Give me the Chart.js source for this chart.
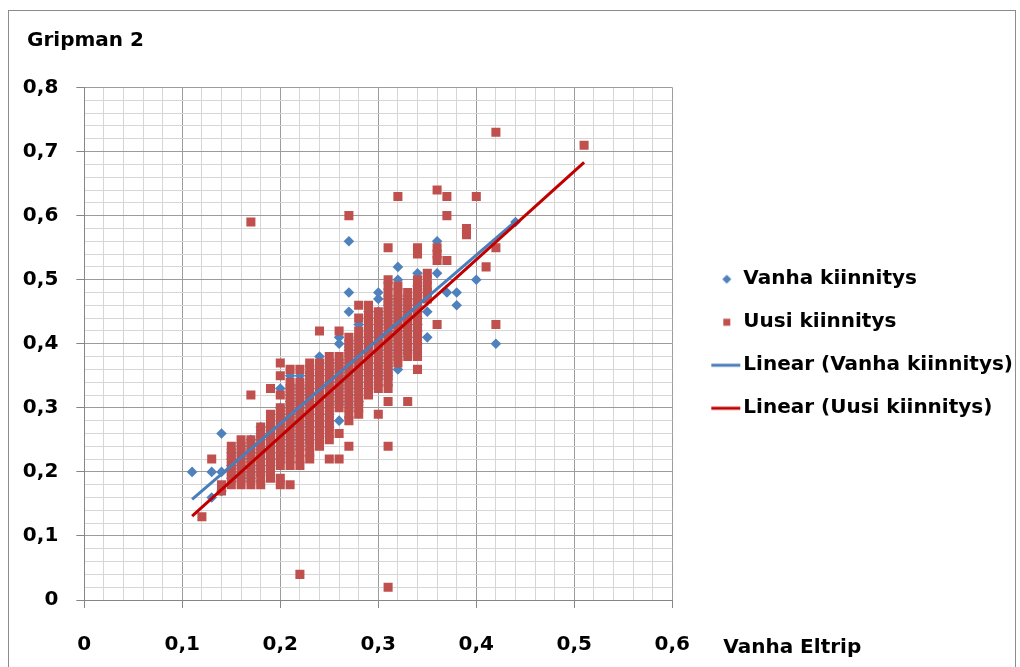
<!DOCTYPE html>
<html><head><meta charset="utf-8">
<script src="https://cdn.jsdelivr.net/npm/chart.js@4.4.1/dist/chart.umd.min.js"></script>
<style>
html,body{margin:0;padding:0;background:#fff;}
#wrap{position:relative;width:1020px;height:667px;overflow:hidden;background:#fff;}
#frame{position:absolute;left:8px;top:10px;width:1006px;height:700px;border:1px solid #8c8c8c;pointer-events:none;}
canvas{position:absolute;left:0;top:0;}
</style></head><body>
<div id="wrap"><canvas id="c" width="1020" height="667"></canvas><div id="frame"></div></div>
<script>
// ---------- data ----------
const chartTitle = 'Gripman 2';
const xAxisTitle = 'Vanha Eltrip';
const seriesNames = ['Vanha kiinnitys', 'Uusi kiinnitys', 'Linear (Vanha kiinnitys)', 'Linear (Uusi kiinnitys)'];

// Vanha kiinnitys: x columns and the y values found in each column
const vanhaX = [0.11,0.13,0.14,0.15,0.16,0.17,0.18,0.19,0.20,0.21,0.22,0.23,0.24,0.25,0.26,0.27,0.28,0.29,0.30,0.31,0.32,0.33,0.34,0.35,0.36,0.37,0.38,0.40,0.42,0.44];
const vanhaY = [
  [0.20],
  [0.16,0.20],
  [0.17,0.20,0.26],
  [0.19,0.20,0.21,0.22,0.23],
  [0.19,0.20,0.21,0.22,0.23,0.24],
  [0.19,0.20,0.21,0.22,0.23,0.24,0.25],
  [0.20,0.21,0.22,0.23,0.24,0.25,0.26,0.27],
  [0.21,0.22,0.23,0.24,0.25,0.26,0.27],
  [0.22,0.23,0.24,0.25,0.26,0.27,0.28,0.29,0.30,0.33],
  [0.23,0.24,0.25,0.26,0.27,0.28,0.29,0.30,0.31,0.32,0.33,0.35],
  [0.24,0.25,0.26,0.27,0.28,0.29,0.30,0.31,0.32,0.33,0.35],
  [0.25,0.26,0.27,0.28,0.29,0.30,0.31,0.32,0.33,0.34,0.35],
  [0.26,0.27,0.28,0.29,0.30,0.31,0.32,0.33,0.34,0.35,0.36,0.38],
  [0.27,0.28,0.29,0.30,0.31,0.32,0.33,0.34,0.35,0.36,0.37],
  [0.28,0.31,0.32,0.33,0.34,0.35,0.36,0.37,0.40,0.41],
  [0.30,0.31,0.32,0.33,0.34,0.35,0.36,0.37,0.38,0.39,0.40,0.45,0.48,0.56],
  [0.31,0.32,0.33,0.34,0.35,0.36,0.37,0.38,0.39,0.40,0.41,0.43],
  [0.33,0.34,0.35,0.36,0.37,0.38,0.39,0.40,0.41,0.42,0.43,0.44,0.45],
  [0.35,0.36,0.37,0.38,0.39,0.40,0.41,0.42,0.43,0.44,0.45,0.47,0.48],
  [0.35,0.36,0.37,0.38,0.39,0.40,0.41,0.42,0.43,0.44,0.45,0.46,0.47],
  [0.36,0.38,0.39,0.40,0.41,0.42,0.43,0.44,0.45,0.46,0.47,0.50,0.52],
  [0.39,0.40,0.41,0.42,0.43,0.44,0.45,0.46,0.47],
  [0.40,0.41,0.42,0.43,0.44,0.45,0.46,0.47,0.48,0.49,0.51],
  [0.41,0.45,0.48],
  [0.51,0.56],
  [0.48],
  [0.46,0.48],
  [0.50],
  [0.40],
  [0.59]
];

// Uusi kiinnitys: x columns and the y values found in each column
const uusiX = [0.12,0.13,0.14,0.15,0.16,0.17,0.18,0.19,0.20,0.21,0.22,0.23,0.24,0.25,0.26,0.27,0.28,0.29,0.30,0.31,0.32,0.33,0.34,0.35,0.36,0.37,0.39,0.40,0.41,0.42,0.51];
const uusiY = [
  [0.13],
  [0.22],
  [0.17,0.18],
  [0.18,0.19,0.20,0.21,0.22,0.23,0.24],
  [0.18,0.19,0.20,0.21,0.22,0.23,0.24,0.25],
  [0.18,0.19,0.20,0.21,0.22,0.23,0.24,0.25,0.32,0.59],
  [0.18,0.19,0.20,0.21,0.22,0.23,0.24,0.25,0.26,0.27],
  [0.19,0.20,0.21,0.22,0.23,0.24,0.25,0.26,0.27,0.28,0.29,0.33],
  [0.18,0.19,0.21,0.22,0.23,0.24,0.25,0.26,0.27,0.28,0.29,0.30,0.32,0.35,0.37],
  [0.18,0.21,0.22,0.23,0.24,0.25,0.26,0.27,0.28,0.29,0.30,0.31,0.32,0.33,0.34,0.36],
  [0.04,0.21,0.22,0.23,0.24,0.25,0.26,0.27,0.28,0.29,0.30,0.31,0.32,0.33,0.34,0.36],
  [0.22,0.23,0.24,0.25,0.26,0.27,0.28,0.29,0.30,0.31,0.32,0.33,0.34,0.35,0.36,0.37],
  [0.24,0.25,0.26,0.27,0.28,0.29,0.30,0.31,0.32,0.33,0.34,0.35,0.36,0.37,0.42],
  [0.22,0.25,0.26,0.27,0.28,0.29,0.30,0.31,0.32,0.33,0.34,0.35,0.36,0.37,0.38],
  [0.22,0.26,0.30,0.31,0.32,0.33,0.34,0.35,0.36,0.37,0.38,0.42],
  [0.24,0.28,0.29,0.30,0.31,0.32,0.33,0.34,0.35,0.36,0.37,0.38,0.39,0.40,0.41,0.60],
  [0.29,0.30,0.31,0.32,0.33,0.34,0.35,0.36,0.37,0.38,0.39,0.40,0.41,0.42,0.44,0.46],
  [0.32,0.33,0.34,0.35,0.36,0.37,0.38,0.39,0.40,0.41,0.42,0.43,0.44,0.45,0.46],
  [0.29,0.33,0.34,0.35,0.36,0.37,0.38,0.39,0.40,0.41,0.42,0.43,0.44,0.45],
  [0.02,0.24,0.31,0.33,0.34,0.35,0.36,0.37,0.38,0.39,0.40,0.41,0.42,0.43,0.44,0.45,0.46,0.47,0.48,0.49,0.50,0.55],
  [0.37,0.38,0.39,0.40,0.41,0.42,0.43,0.44,0.45,0.46,0.47,0.48,0.49,0.63],
  [0.31,0.38,0.39,0.40,0.41,0.42,0.43,0.44,0.45,0.46,0.47,0.48],
  [0.36,0.38,0.39,0.40,0.41,0.42,0.43,0.44,0.45,0.46,0.47,0.48,0.49,0.50,0.54,0.55],
  [0.47,0.48,0.49,0.50,0.51],
  [0.43,0.53,0.54,0.55,0.64],
  [0.53,0.60,0.63],
  [0.57,0.58],
  [0.63],
  [0.52],
  [0.43,0.55,0.73],
  [0.71]
];

// Linear trendlines (end points)
const vanhaTrendX = [0.11, 0.44];
const vanhaTrendY = [0.157, 0.591];
const uusiTrendX = [0.11, 0.51];
const uusiTrendY = [0.131, 0.683];

// axis ranges
const xMin = 0, xMax = 0.6, yMin = 0, yMax = 0.8, gridStep = 0.02;

// ---------- styling ----------
const FONT = '"DejaVu Sans"';
const FSIZE = 20;
const BLUE = '#4F81BD';
const RED = '#C0504D';
const BLUE_LINE = '#4A7EBB';
const RED_LINE = '#C00000';
const MAJOR = '#9c9c9c';
const MINOR = '#d6d6d6';
const AXIS = '#868686';
Chart.defaults.font.family = FONT;

function columnsToPoints(xs, ys) {
  const pts = [];
  xs.forEach((x, i) => ys[i].forEach(y => pts.push({x: x, y: y})));
  return pts;
}
function pairsToPoints(xs, ys) { return xs.map((x, i) => ({x: x, y: ys[i]})); }
function isMajor(v) { return Math.abs(v * 10 - Math.round(v * 10)) < 1e-6; }
function fmt(v) { return Math.abs(v) < 1e-9 ? '0' : v.toFixed(1).replace('.', ','); }

function makeIcon(kind, color) {
  const c = document.createElement('canvas');
  c.width = 70; c.height = 20;
  const g = c.getContext('2d');
  g.fillStyle = color; g.strokeStyle = color;
  const cx = 47.5, cy = 10;
  if (kind === 'diamond') {
    g.beginPath(); g.moveTo(cx, cy - 4.5); g.lineTo(cx + 4.5, cy); g.lineTo(cx, cy + 4.5); g.lineTo(cx - 4.5, cy); g.closePath(); g.fill();
  } else if (kind === 'square') {
    g.fillRect(cx - 3.5, cy - 3.5, 7, 7);
  } else {
    g.lineWidth = 3; g.beginPath(); g.moveTo(32, cy); g.lineTo(61, cy); g.stroke();
  }
  return c;
}
const legendIcons = [makeIcon('diamond', BLUE), makeIcon('square', RED), makeIcon('line', BLUE_LINE), makeIcon('line', RED_LINE)];

const axisTitlePlugin = {
  id: 'axisTitle',
  afterDraw(chart) {
    const {ctx, chartArea} = chart;
    ctx.save();
    ctx.font = 'bold ' + FSIZE + 'px ' + FONT;
    ctx.fillStyle = '#000';
    ctx.textBaseline = 'alphabetic';
    ctx.textAlign = 'left';
    ctx.fillText(xAxisTitle, chartArea.right + 51, chartArea.bottom + 53);
    ctx.restore();
  }
};
// let the legend box run to the right edge so long labels are not clipped,
// and indent the title to where the reference has it
const layoutTweakPlugin = {
  id: 'layoutTweak',
  afterLayout(chart) {
    const l = chart.legend;
    if (l) { l.right = chart.width; l.width = l.right - l.left; }
    const t = chart.titleBlock;
    if (t) { t.left = 27; t.width = t.right - t.left; }
  }
};

const tickFont = {family: FONT, size: FSIZE, weight: 'bold'};

new Chart(document.getElementById('c'), {
  type: 'scatter',
  data: {
    datasets: [
      {label: seriesNames[0], data: columnsToPoints(vanhaX, vanhaY), pointStyle: 'rectRot', pointRadius: 5.3, pointHoverRadius: 5.3,
       backgroundColor: BLUE, borderColor: BLUE, borderWidth: 0, order: 4},
      {label: seriesNames[1], data: columnsToPoints(uusiX, uusiY), pointStyle: 'rect', pointRadius: 6.4, pointHoverRadius: 6.4,
       backgroundColor: RED, borderColor: RED, borderWidth: 0, order: 3},
      {label: seriesNames[2], data: pairsToPoints(vanhaTrendX, vanhaTrendY), showLine: true, pointRadius: 0, pointHoverRadius: 0,
       borderColor: BLUE_LINE, backgroundColor: BLUE_LINE, borderWidth: 3, fill: false, order: 2},
      {label: seriesNames[3], data: pairsToPoints(uusiTrendX, uusiTrendY), showLine: true, pointRadius: 0, pointHoverRadius: 0,
       borderColor: RED_LINE, backgroundColor: RED_LINE, borderWidth: 3, fill: false, order: 1}
    ]
  },
  options: {
    responsive: false,
    animation: false,
    devicePixelRatio: 1,
    events: [],
    layout: {padding: {left: 12, top: 0, right: 147.7, bottom: 0}},
    scales: {
      x: {
        type: 'linear', position: 'bottom', min: xMin, max: xMax,
        afterFit(s) { s.height = 67; },
        border: {display: true, color: AXIS, width: 1},
        grid: {
          color: c => (c.tick && isMajor(c.tick.value)) ? MAJOR : MINOR,
          tickColor: c => (c.tick && isMajor(c.tick.value)) ? AXIS : 'rgba(0,0,0,0)',
          tickLength: 8, drawTicks: true, lineWidth: 1
        },
        ticks: {stepSize: gridStep, autoSkip: false, maxRotation: 0, minRotation: 0, padding: 25,
          color: '#000', font: tickFont, callback: v => isMajor(v) ? fmt(v) : ''}
      },
      y: {
        type: 'linear', min: yMin, max: yMax,
        afterFit(s) { s.width = 72.3; },
        border: {display: true, color: AXIS, width: 1},
        grid: {
          color: c => (c.tick && isMajor(c.tick.value)) ? MAJOR : MINOR,
          tickColor: c => (c.tick && isMajor(c.tick.value)) ? AXIS : 'rgba(0,0,0,0)',
          tickLength: 8, drawTicks: true, lineWidth: 1
        },
        ticks: {stepSize: gridStep, autoSkip: false, padding: 18,
          color: '#000', font: tickFont, callback: v => isMajor(v) ? fmt(v) : ''}
      }
    },
    plugins: {
      tooltip: {enabled: false},
      title: {display: true, text: chartTitle, align: 'start', color: '#000',
        font: {family: FONT, size: FSIZE, weight: 'bold'}, padding: {top: 29, bottom: 34.5}},
      legend: {
        display: true, position: 'right', align: 'center', fullSize: false, maxWidth: 200,
        labels: {
          usePointStyle: true, pointStyleWidth: 38, padding: 23, color: '#000',
          font: {family: FONT, size: FSIZE, weight: 'bold'},
          generateLabels: chart => chart.data.datasets.map((ds, i) => ({
            text: ds.label, pointStyle: legendIcons[i], datasetIndex: i, hidden: false,
            lineWidth: 0, fillStyle: 'rgba(0,0,0,0)', strokeStyle: 'rgba(0,0,0,0)', fontColor: '#000'
          }))
        }
      }
    }
  },
  plugins: [axisTitlePlugin, layoutTweakPlugin]
});
</script>
</body></html>
